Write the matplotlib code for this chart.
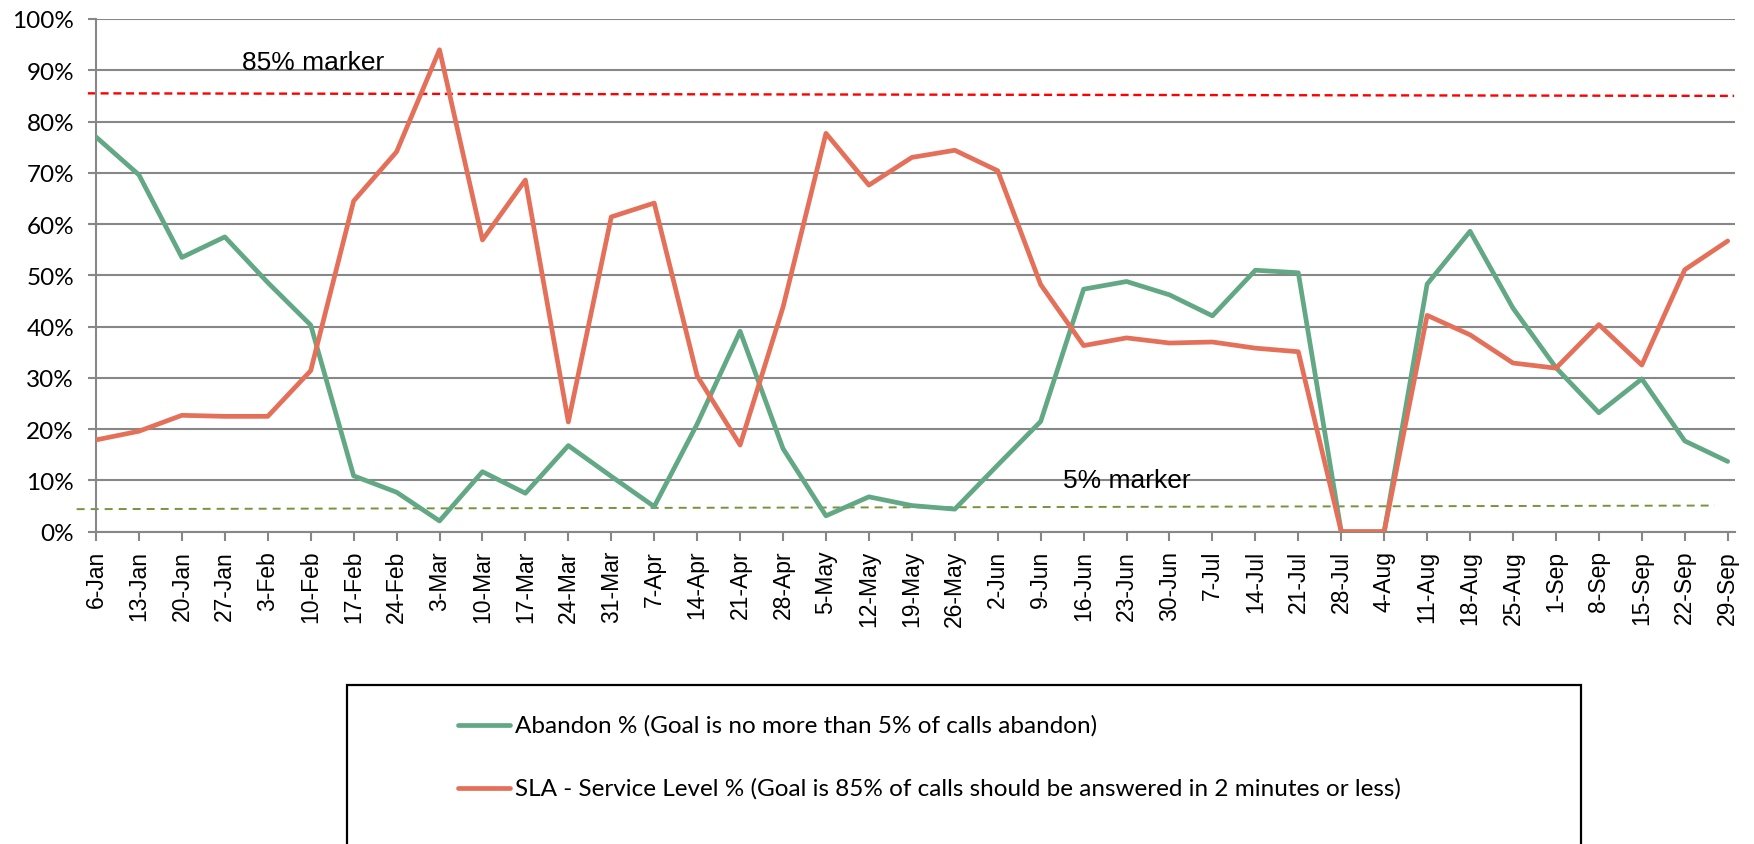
import numpy as np
import matplotlib
matplotlib.use('Agg')
import matplotlib.pyplot as plt
from matplotlib.lines import Line2D
from matplotlib.patches import Rectangle

GREEN = '#62A884'
RED = '#E4705A'
GRID = '#878787'

weeks = ['6-Jan', '13-Jan', '20-Jan', '27-Jan', '3-Feb', '10-Feb', '17-Feb', '24-Feb',
         '3-Mar', '10-Mar', '17-Mar', '24-Mar', '31-Mar', '7-Apr', '14-Apr', '21-Apr',
         '28-Apr', '5-May', '12-May', '19-May', '26-May', '2-Jun', '9-Jun', '16-Jun',
         '23-Jun', '30-Jun', '7-Jul', '14-Jul', '21-Jul', '28-Jul', '4-Aug', '11-Aug',
         '18-Aug', '25-Aug', '1-Sep', '8-Sep', '15-Sep', '22-Sep', '29-Sep']

abandon = [77.0, 69.6, 53.5, 57.5, 48.6, 40.3, 10.9, 7.7, 2.1, 11.7, 7.5, 16.8, 10.8,
           4.9, 21.0, 39.1, 16.2, 3.1, 6.8, 5.1, 4.4, 13.0, 21.5, 47.3, 48.8, 46.2,
           42.1, 51.0, 50.5, 0.0, 0.0, 48.3, 58.6, 43.6, 32.0, 23.2, 29.8, 17.7, 13.7]

service_level = [17.9, 19.6, 22.7, 22.5, 22.5, 31.4, 64.5, 74.1, 94.0, 56.9, 68.6, 21.4,
                 61.4, 64.1, 30.4, 16.9, 43.8, 77.7, 67.6, 73.0, 74.4, 70.4, 48.2, 36.3,
                 37.8, 36.8, 37.0, 35.8, 35.1, 0.0, 0.0, 42.2, 38.4, 32.9, 31.9, 40.4,
                 32.5, 51.1, 56.7]

legend_labels = ['Abandon % (Goal is no more than 5% of calls abandon)',
                 'SLA - Service Level % (Goal is 85% of calls should be answered in 2 minutes or less)']

# hand-drawn goal markers in the original (slightly tilted)
sla_marker_x = [-0.19, 38.15]
sla_marker_y = [85.5, 85.0]
abandon_marker_x = [-0.45, 37.7]
abandon_marker_y = [4.4, 5.1]

y_ticks = list(range(0, 101, 10))


def main():
    W, H = 1754, 845
    fig = plt.figure(figsize=(W / 100, H / 100), dpi=100, facecolor='white')
    ax = fig.add_axes([96 / W, (H - 532.7) / H, (1735 - 96) / W, (532.7 - 20) / H])

    x = np.arange(len(weeks))
    ax.set_xlim(0, (1735 - 96) / ((1727.7 - 96) / 38))
    ax.set_ylim(0, 100)

    for v in y_ticks:
        ax.axhline(v, color=GRID, lw=1.5, zorder=1)

    ax.plot(x, abandon, color=GREEN, lw=3.4, solid_joinstyle='round',
            solid_capstyle='round', zorder=3)
    ax.plot(x, service_level, color=RED, lw=3.4, solid_joinstyle='round',
            solid_capstyle='round', zorder=3)

    ax.plot(sla_marker_x, sla_marker_y, color='#FF0000', lw=1.7,
            linestyle=(0, (3.4, 2.0)), clip_on=False, zorder=2)
    ax.plot(abandon_marker_x, abandon_marker_y, color='#77933C', lw=1.4,
            linestyle=(0, (4.1, 3.1)), clip_on=False, zorder=2)

    ax.text(3.39, 90.2, '85% marker', fontsize=19, family='Liberation Sans',
            va='baseline', ha='left', color='black', zorder=4)
    ax.text(22.53, 8.65, '5% marker', fontsize=19, family='Liberation Sans',
            va='baseline', ha='left', color='black', zorder=4)

    for s in ['top', 'right']:
        ax.spines[s].set_visible(False)
    ax.spines['left'].set_color(GRID)
    ax.spines['left'].set_linewidth(1.5)
    ax.spines['bottom'].set_color(GRID)
    ax.spines['bottom'].set_linewidth(1.5)

    ax.set_yticks(y_ticks)
    ax.set_yticklabels([f'{v}%' for v in y_ticks], family='Lato', fontsize=17.5)
    ax.tick_params(axis='y', length=5.8, width=1.5, color=GRID, pad=10)

    ax.set_xticks(x)
    ax.set_xticklabels(weeks, rotation=90, family='Liberation Sans', fontsize=16.5)
    ax.tick_params(axis='x', length=6.5, width=1.5, color=GRID, pad=6.5)

    # legend box (runs off the bottom of the image in the original)
    fig.add_artist(Rectangle((346.8 / W, -0.05), (1580.6 - 346.8) / W,
                             0.05 + (H - 685.7) / H, transform=fig.transFigure,
                             fill=False, edgecolor='black', lw=1.6, clip_on=False))
    for yy, color, label in [(725.7, GREEN, legend_labels[0]),
                             (789.3, RED, legend_labels[1])]:
        fig.add_artist(Line2D([458 / W, 510 / W], [(H - yy) / H] * 2, color=color,
                              lw=3.4, solid_capstyle='round', transform=fig.transFigure))
        fig.text(515 / W, (H - yy) / H, label, family='Lato', fontsize=17.5,
                 va='center', ha='left', color='black')

    fig.savefig('out.png', dpi=100, facecolor='white')
    plt.close(fig)


if __name__ == '__main__':
    main()
